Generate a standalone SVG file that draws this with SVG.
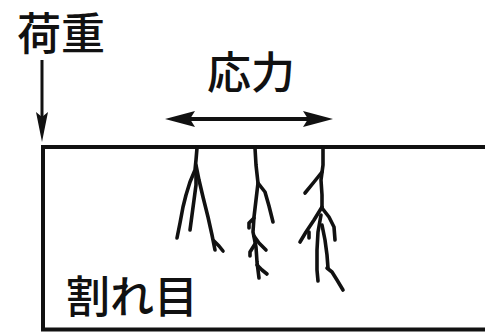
<svg xmlns="http://www.w3.org/2000/svg" width="485" height="334" viewBox="0 0 485 334">
  <style>
    .lbl { font-family: "Noto Sans CJK JP", "Noto Sans CJK SC", sans-serif; font-size: 44px; font-weight: 500; fill: #111; }
    .edge { stroke: #111; stroke-width: 4; fill: none; }
    .crack { stroke: #111; stroke-width: 3.6; fill: none; stroke-linecap: round; stroke-linejoin: round; }
    .head { fill: #111; }
  </style>
  <rect width="485" height="334" fill="#fff"/>

  <!-- specimen body -->
  <g id="specimen">
    <line class="edge" x1="41" y1="147" x2="485" y2="147"/>
    <line class="edge" x1="43" y1="145" x2="43" y2="331"/>
    <line class="edge" x1="41" y1="329.5" x2="485" y2="329.5"/>
  </g>

  <!-- load and stress arrows -->
  <g id="connectors">
    <line x1="42" y1="60" x2="42" y2="120" stroke="#111" stroke-width="3"/>
    <path class="head" d="M36,112 L42,117 L48,112 L42,142 Z"/>
    <line x1="190" y1="119" x2="310" y2="119" stroke="#111" stroke-width="4"/>
    <path class="head" d="M195,111 L190,119 L195,127 L165,119 Z"/>
    <path class="head" d="M303,111 L308,119 L303,127 L333,119 Z"/>
  </g>

  <g id="load-label"><text class="lbl" x="17" y="50">荷重</text></g>
  <g id="stress-label"><text class="lbl" x="207" y="89">応力</text></g>
  <g id="crack-label"><text class="lbl" x="66" y="313">割れ目</text></g>

  <!-- cracks running down from the top surface -->
  <g id="crack-1">
    <path class="crack" d="M197,148 L196,160 L195,170 L190,182 L186,195 L183,207 L180,223 L177,238"/>
    <path class="crack" d="M196,172 L196,185 L194,200 L192,215 L190,230"/>
    <path class="crack" d="M196,165 L199,180 L203,197 L208,217 L212,235 L215,250"/>
    <path class="crack" d="M214,241 L219,246 L223,251"/>
  </g>
  <g id="crack-2">
    <path class="crack" d="M255,148 L256,165 L258,183 L256,200 L254,217 L253,232 L256,247 L257,262 L259,278"/>
    <path class="crack" d="M258,183 L265,192 L269,206 L273,222"/>
    <path class="crack" d="M254,218 L249,223 L249,228"/>
    <path class="crack" d="M254,236 L259,243 L266,250"/>
    <path class="crack" d="M255,244 L250,252 L250,256"/>
    <path class="crack" d="M257,265 L262,270 L267,274"/>
  </g>
  <g id="crack-3">
    <path class="crack" d="M323,148 L323,165 L321,180 L322,195 L322,208"/>
    <path class="crack" d="M322,172 L314,182 L305,193"/>
    <path class="crack" d="M322,207 L314,220 L306,232 L300,242"/>
    <path class="crack" d="M309,232 L309,238"/>
    <path class="crack" d="M322,208 L329,217 L334,227 L335,240"/>
    <path class="crack" d="M321,215 L318,232 L317,250 L317,270 L318,281"/>
    <path class="crack" d="M322,225 L325,240 L327,255 L328,268"/>
    <path class="crack" d="M327,268 L332,272 L337,280 L343,290"/>
  </g>
</svg>
